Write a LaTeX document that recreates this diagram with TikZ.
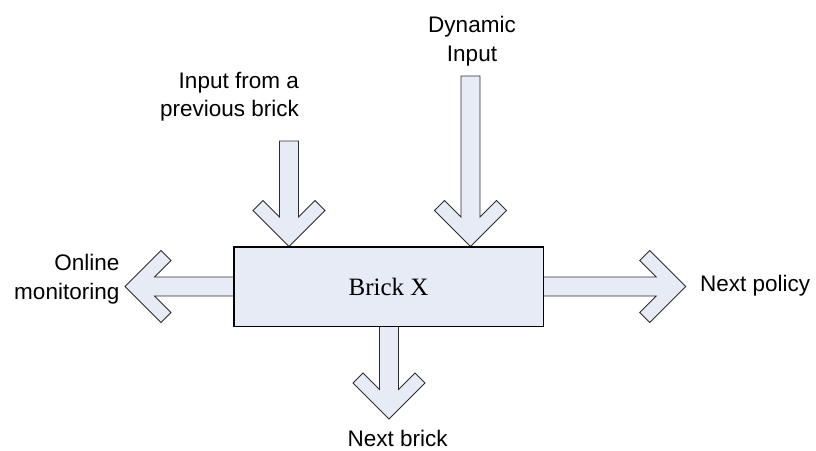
\documentclass[tikz,border=0pt]{standalone}
\usepackage{fontspec}
\setmainfont{Liberation Sans}
\newfontfamily\brickfont{Liberation Serif}
\usetikzlibrary{calc}

\definecolor{brickfill}{RGB}{230,235,246}
\definecolor{brickline}{RGB}{45,45,45}

\tikzset{
  barrow/.style={draw=brickline, fill=brickfill, line width=0.9pt, line join=miter},
  brickbox/.style={draw=black, fill=brickfill, line width=0.9pt,
    minimum width=309pt, minimum height=79pt, inner sep=0pt,
    font=\brickfont\fontsize{25}{30}\selectfont},
  lbl/.style={inner sep=0pt, font=\fontsize{22.5}{28.3}\selectfont},
}

% Block arrow with a chevron head: #1 = tail, #2 = tip
\newcommand\blockarrow[2]{%
  \draw[barrow] let \p1=($(#1)-(#2)$), \n1={atan2(\y1,\x1)} in
    (#2)
    -- ($(#2)+(\n1+45:50.91pt)$)
    -- ($(#2)+(\n1+29.48:52.84pt)$)
    -- ($(#2)+(\n1+17.85:30.99pt)$)
    -- ($(#1)+(\n1+90:9.5pt)$)
    -- ($(#1)+(\n1-90:9.5pt)$)
    -- ($(#2)+(\n1-17.85:30.99pt)$)
    -- ($(#2)+(\n1-29.48:52.84pt)$)
    -- ($(#2)+(\n1-45:50.91pt)$)
    -- cycle;%
}

\begin{document}
\begin{tikzpicture}[x=1pt,y=-1pt]
\useasboundingbox (0,0) rectangle (816,450);

% central block
\node[brickbox] (brick) at (388.5,286.5) {Brick X};

% arrow end points
\coordinate (prevtail) at (289,141);
\coordinate (prevtip) at (prevtail |- brick.north);
\coordinate (dyntail) at (470.5,76);
\coordinate (dyntip) at (dyntail |- brick.north);
\coordinate (monitip) at (125,286.5);
\coordinate (monitail) at (brick.west);
\coordinate (policytip) at (685.7,286.5);
\coordinate (policytail) at (brick.east);
\coordinate (nexttip) at (389,419);
\coordinate (nexttail) at (nexttip |- brick.south);

\blockarrow{prevtail}{prevtip}
\blockarrow{dyntail}{dyntip}
\blockarrow{monitail}{monitip}
\blockarrow{policytail}{policytip}
\blockarrow{nexttail}{nexttip}

% block outline on top of the arrow ends
\draw[line width=0.9pt] (brick.north west) rectangle (brick.south east);

% labels (base anchor of a two-line label sits on its second line)
\node[lbl, align=right, anchor=base east] (prevlbl) at (299,116.6) {Input from a\\previous brick};
\node[lbl, align=center, anchor=base] (dynlbl) at (472,61) {Dynamic\\Input};
\node[lbl, align=right, anchor=base east] (monilbl) at (119.5,299) {Online\\monitoring};
\node[lbl, anchor=base west] (policylbl) at (700,291.7) {Next policy};
\node[lbl, anchor=base] (nextlbl) at (397.7,446.5) {Next brick};
\end{tikzpicture}
\end{document}
